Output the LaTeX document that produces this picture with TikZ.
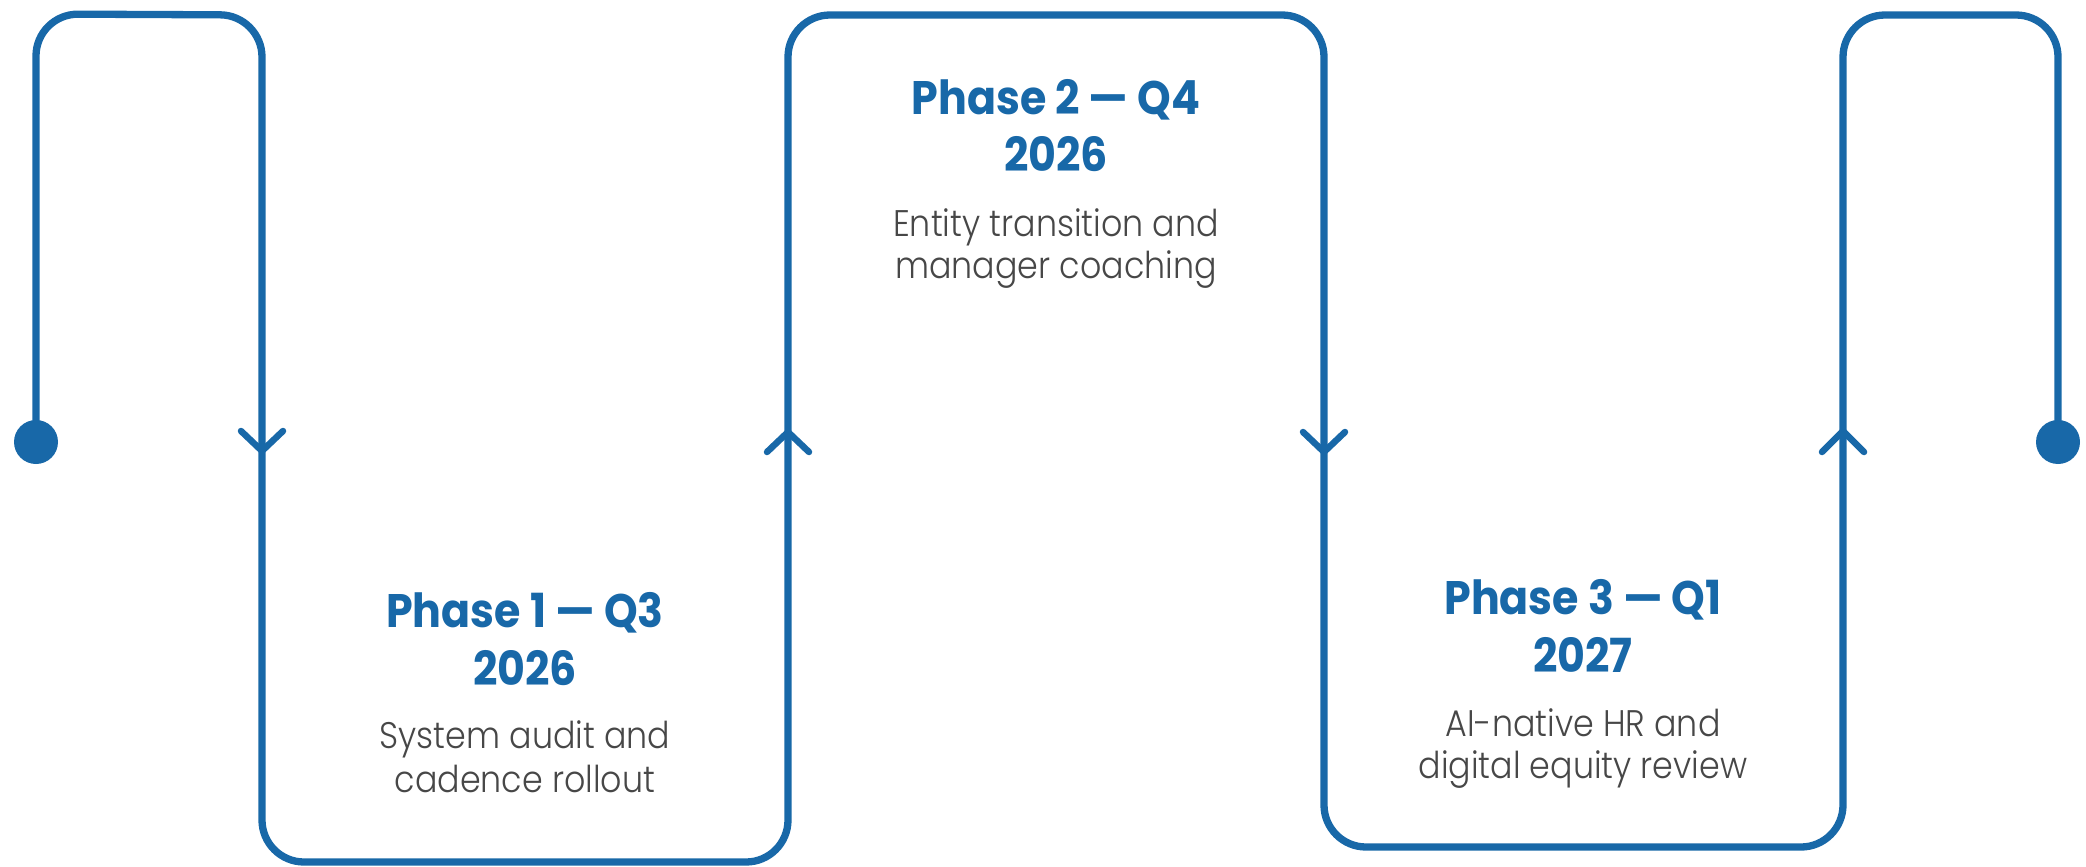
\documentclass[tikz,border=0pt]{standalone}
\usepackage{fontspec}
\setmainfont{Poppins}
\newfontfamily\titlefont[FakeStretch=0.91]{Poppins}
\newfontfamily\subfont[FakeStretch=0.9]{Poppins Light}
\definecolor{flowblue}{HTML}{1868A8}
\definecolor{subgray}{HTML}{474747}
\begin{document}
\begin{tikzpicture}[x=1pt,y=-1pt,
  flow/.style={draw=flowblue,line width=7.3pt,rounded corners=42pt},
  chev/.style={draw=flowblue,line width=6.5pt,line cap=round,line join=round},
  enddot/.style={circle,fill=flowblue,inner sep=0pt,minimum size=44pt},
  ttl/.style={anchor=base,inner sep=0pt,text=flowblue,font=\titlefont\bfseries\fontsize{47}{56}\selectfont},
  sub/.style={anchor=base,inner sep=0pt,text=subgray,font=\subfont\fontsize{37}{47}\selectfont}]
\useasboundingbox (0,0) rectangle (2086,867);
% end dots
\node[enddot] (d1) at (36,442) {};
\node[enddot] (d2) at (2058,442) {};
% corner coordinates
\coordinate (c1) at (36,14);
\coordinate (c2) at (262,15);
\coordinate (c3) at (262,862);
\coordinate (c4) at (788,862);
\coordinate (c5) at (788,15);
\coordinate (c6) at (1324,15);
\coordinate (c7) at (1324,847);
\coordinate (c8) at (1843,847);
\coordinate (c9) at (1843,15);
\coordinate (c10) at (2058,15);
% serpentine path
\draw[flow] (d1.center) -- (c1) -- (c2) -- (c3) -- (c4) -- (c5) -- (c6) -- (c7) -- (c8) -- (c9) -- (c10) -- (d2.center);
% direction chevrons
\draw[chev] (241,431) -- (262,451) -- (283,431);
\draw[chev] (767,452) -- (788,432) -- (809,452);
\draw[chev] (1303,432) -- (1324,452) -- (1345,432);
\draw[chev] (1822,452) -- (1843,431) -- (1864,452);
% Phase 1
\node[ttl] (p1a) at (525,627) {Phase 1 — Q3};
\node[ttl] (p1b) at (525,685) {2026};
\node[sub] (s1a) at (525,748) {System audit and};
\node[sub] (s1b) at (525,792) {cadence rollout};
% Phase 2
\node[ttl] (p2a) at (1056,114) {Phase 2 — Q4};
\node[ttl] (p2b) at (1056,171) {2026};
\node[sub] (s2a) at (1056,236) {Entity transition and};
\node[sub] (s2b) at (1056,278) {manager coaching};
% Phase 3
\node[ttl] (p3a) at (1583,614) {Phase 3 — Q1};
\node[ttl] (p3b) at (1583,672) {2027};
\node[sub] (s3a) at (1583,736) {AI-native HR and};
\node[sub] (s3b) at (1583,778) {digital equity review};
\end{tikzpicture}
\end{document}
